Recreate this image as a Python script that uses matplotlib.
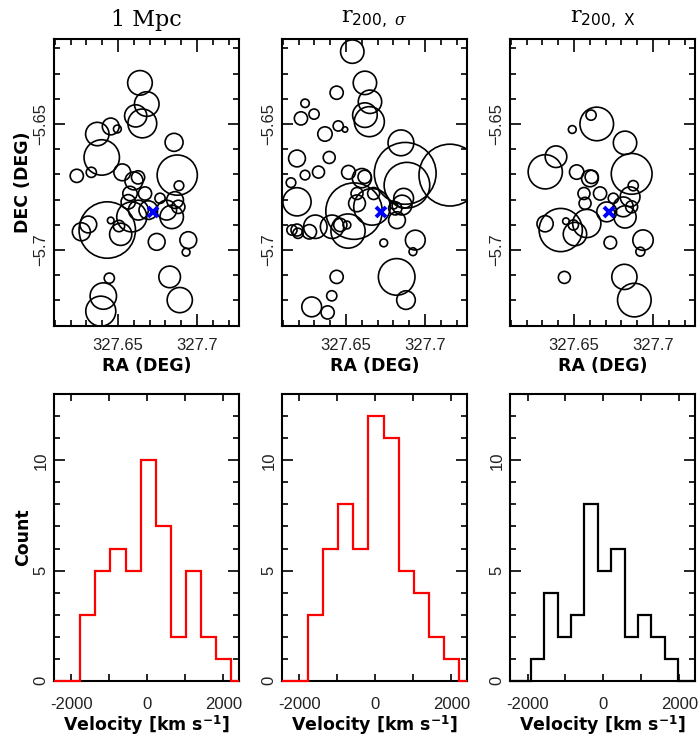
import matplotlib
matplotlib.use("Agg")
import matplotlib.pyplot as plt
from matplotlib.ticker import FixedLocator, MultipleLocator

plt.rcParams["mathtext.fontset"] = "custom"
plt.rcParams["mathtext.rm"] = "DejaVu Serif"
plt.rcParams["mathtext.sf"] = "DejaVu Sans"
plt.rcParams["mathtext.it"] = "DejaVu Serif:italic"
plt.rcParams["mathtext.bf"] = "DejaVu Sans:bold"

# --- galaxy positions (deg) and DS deviations per aperture ---
p1_ra = [327.6639, 327.6682, 327.6612, 327.6654, 327.6454, 327.6496, 327.6369, 327.6397, 327.6855, 327.6875,
         327.6239, 327.6331, 327.6527, 327.6601, 327.6627, 327.6886, 327.6432, 327.6312, 327.6268, 327.6454,
         327.6506, 327.6517, 327.6587, 327.6576, 327.6565, 327.6671, 327.6766, 327.6808, 327.6861, 327.6882,
         327.6840, 327.6745, 327.6945, 327.6931, 327.6445, 327.6407, 327.6391, 327.6827, 327.6891, 327.6692,
         327.6629]
p1_dec = [-5.6337, -5.6421, -5.6468, -5.6498, -5.6510, -5.6520, -5.6540, -5.6633, -5.6573, -5.6703,
          -5.6706, -5.6692, -5.6692, -5.6726, -5.6712, -5.6745, -5.6921, -5.6899, -5.6928, -5.6883,
          -5.6905, -5.6938, -5.6869, -5.6776, -5.6809, -5.6776, -5.6795, -5.6842, -5.6802, -5.6829,
          -5.6869, -5.6968, -5.6961, -5.7009, -5.7112, -5.7183, -5.7243, -5.7107, -5.7199, -5.6842,
          -5.6842]
p1_delta = [4.1, 4.1, 3.7, 4.8, 2.8, 1.3, 3.9, 5.9, 3.0, 6.7,
            2.2, 1.7, 2.8, 3.0, 2.2, 1.6, 9.4, 2.8, 3.0, 1.1,
            1.9, 3.7, 5.0, 2.4, 2.4, 2.2, 1.7, 3.3, 2.8, 2.2,
            3.9, 2.8, 2.8, 1.3, 1.7, 4.4, 5.0, 3.6, 4.2, 3.1,
            3.3]

p2_ra = [327.6540, 327.6620, 327.6652, 327.6620, 327.6648, 327.6441, 327.6241, 327.6298, 327.6215, 327.6451,
         327.6494, 327.6367, 327.6848, 327.6875, 327.6886, 327.7158, 327.6190, 327.6394, 327.6326, 327.6241,
         327.6152, 327.6190, 327.6516, 327.6601, 327.6618, 327.6675, 327.6570, 327.6570, 327.6551, 327.6665,
         327.6513, 327.6812, 327.6823, 327.6802, 327.6865, 327.6855, 327.6306, 327.6268, 327.6190, 327.6158,
         327.6196, 327.6412, 327.6464, 327.6506, 327.6739, 327.6939, 327.6924, 327.6821, 327.6880, 327.6441,
         327.6410, 327.6283, 327.6384]
p2_dec = [-5.6213, -5.6337, -5.6412, -5.6465, -5.6491, -5.6376, -5.6418, -5.6461, -5.6478, -5.6508,
          -5.6522, -5.6540, -5.6575, -5.6696, -5.6743, -5.6703, -5.6637, -5.6633, -5.6691, -5.6703,
          -5.6733, -5.6809, -5.6692, -5.6715, -5.6710, -5.6776, -5.6776, -5.6815, -5.6846, -5.6829,
          -5.6925, -5.6835, -5.6882, -5.6822, -5.6795, -5.6822, -5.6908, -5.6928, -5.6921, -5.6921,
          -5.6934, -5.6908, -5.6901, -5.6901, -5.6972, -5.6961, -5.7007, -5.7107, -5.7199, -5.7107,
          -5.7182, -5.7226, -5.7248]
p2_delta = [3.9, 3.9, 3.9, 4.1, 5.0, 2.2, 1.4, 1.7, 2.2, 1.7,
            0.9, 2.4, 4.3, 10.3, 7.6, 10.3, 2.8, 2.0, 2.0, 1.6,
            1.6, 4.7, 2.3, 3.2, 2.2, 2.0, 2.0, 2.8, 9.4, 6.1,
            5.7, 2.2, 2.8, 1.3, 3.3, 3.3, 3.9, 2.4, 2.0, 1.7,
            1.7, 3.9, 2.2, 1.3, 1.3, 3.3, 1.3, 6.1, 3.1, 2.2,
            1.7, 3.3, 2.2]

p3_ra = [327.6644, 327.6608, 327.6489, 327.6823, 327.6865, 327.6318, 327.6386, 327.6517, 327.6601, 327.6612,
         327.6875, 327.6563, 327.6665, 327.6570, 327.6749, 327.6855, 327.6812, 327.6865, 327.6823, 327.6707,
         327.6416, 327.6317, 327.6449, 327.6496, 327.6506, 327.6581, 327.6730, 327.6937, 327.6920, 327.6439,
         327.6819, 327.6882]
p3_dec = [-5.6500, -5.6465, -5.6522, -5.6575, -5.6698, -5.6690, -5.6630, -5.6691, -5.6716, -5.6710,
          -5.6745, -5.6776, -5.6776, -5.6815, -5.6795, -5.6789, -5.6829, -5.6829, -5.6869, -5.6849,
          -5.6921, -5.6896, -5.6886, -5.6901, -5.6937, -5.6895, -5.6971, -5.6961, -5.7007, -5.7109,
          -5.7107, -5.7199]
p3_delta = [5.6, 1.7, 1.3, 3.9, 6.8, 5.7, 3.6, 2.4, 2.8, 2.2,
            1.7, 2.0, 2.2, 2.0, 1.7, 3.3, 3.3, 2.0, 3.7, 3.3,
            7.2, 2.7, 1.1, 1.7, 3.9, 4.7, 2.1, 3.4, 1.5, 2.0,
            4.2, 5.6]

# cluster centre
centre_ra = 327.6722
centre_dec = -5.6851

# --- velocity histograms (km/s) ---
vel_edges_a = [-1765, -1370, -974, -578, -183, 213, 609, 1004, 1400, 1796, 2191]
h1_counts = [3, 5, 6, 5, 10, 7, 2, 5, 2, 1]
h2_counts = [3, 6, 8, 6, 12, 11, 5, 4, 2, 1]
vel_edges_b = [-1913, -1560, -1207, -854, -501, -148, 205, 558, 911, 1264, 1617, 1970]
h3_counts = [1, 4, 2, 3, 8, 5, 6, 2, 3, 2, 1]

titles = ["1 Mpc", r"$\mathrm{r}_{\mathsf{200,}\ \sigma}$", r"$\mathrm{r}_{\mathsf{200,\ X}}$"]

TICK_FONT = {"family": "Liberation Sans", "size": 12, "color": "#222222"}
LABEL_FONT = {"family": "DejaVu Sans", "weight": "bold", "size": 12.5}

RA_LIM = (327.6095, 327.7266)
DEC_LIM = (-5.7302, -5.6163)
VEL_LIM = (-2460, 2410)


def style_frame(ax, xlen_major, xlen_minor):
    for sp in ax.spines.values():
        sp.set_linewidth(1.5)
    ax.tick_params(which="both", direction="in", top=True, right=True, width=1.2)
    ax.tick_params(axis="y", which="major", length=8, pad=4)
    ax.tick_params(axis="y", which="minor", length=4.5)
    ax.tick_params(axis="x", which="major", length=xlen_major)
    ax.tick_params(axis="x", which="minor", length=xlen_minor)


def set_labels(ax, xticks, xlabels, yticks, ylabels):
    ax.xaxis.set_major_locator(FixedLocator(xticks))
    ax.set_xticklabels(xlabels, fontdict=TICK_FONT)
    ax.yaxis.set_major_locator(FixedLocator(yticks))
    ax.set_yticklabels(ylabels, fontdict=TICK_FONT, rotation=90, va="center")


def sky_panel(ax, ra, dec, delta, title, first):
    size = [(4.32 * d) ** 2 for d in delta]
    ax.scatter(ra, dec, s=size, facecolors="none", edgecolors="black", linewidths=1.2)
    ax.plot(centre_ra, centre_dec, marker="x", color="blue", ms=7, mew=2.8, zorder=5)
    ax.set_xlim(*RA_LIM)
    ax.set_ylim(*DEC_LIM)
    style_frame(ax, 9, 4.5)
    set_labels(ax, [327.65, 327.7], ["327.65", "327.7"], [-5.7, -5.65], ["\u22125.7", "\u22125.65"])
    ax.xaxis.set_minor_locator(MultipleLocator(0.01))
    ax.yaxis.set_minor_locator(MultipleLocator(0.01))
    ax.tick_params(axis="x", which="major", pad=8.5)
    ax.set_xlabel("RA (DEG)", labelpad=3, **LABEL_FONT)
    if first:
        ax.set_ylabel("DEC (DEG)", labelpad=1, **LABEL_FONT)
    ax.annotate(title, xy=(0.5, 1.0), xycoords="axes fraction", xytext=(0, 5.5),
                textcoords="offset points", ha="center", va="bottom",
                fontsize=16, family="DejaVu Serif")


def hist_panel(ax, edges, counts, color, first):
    # pad with empty bins so the zero level runs out to the frame
    ed = [VEL_LIM[0]] + list(edges) + [VEL_LIM[1]]
    ct = [0] + list(counts) + [0]
    ax.stairs(ct, ed, color=color, linewidth=1.6, zorder=3, clip_on=False)
    ax.set_xlim(*VEL_LIM)
    ax.set_ylim(0, 13)
    style_frame(ax, 5, 5)
    set_labels(ax, [-2000, 0, 2000], ["-2000", "0", "2000"], [0, 5, 10], ["0", "5", "10"])
    ax.xaxis.set_minor_locator(FixedLocator([-1000, 1000]))
    ax.yaxis.set_minor_locator(MultipleLocator(1))
    ax.tick_params(axis="x", which="major", pad=12)
    ax.set_xlabel(r"Velocity [km s$^{\mathbf{-1}}$]", labelpad=1, **LABEL_FONT)
    if first:
        ax.set_ylabel("Count", labelpad=1, **LABEL_FONT)


def main():
    fig = plt.figure(figsize=(6.98, 7.42), dpi=100)
    lefts = [0.0774, 0.404, 0.7307]
    width = 0.265
    sky = [(p1_ra, p1_dec, p1_delta), (p2_ra, p2_dec, p2_delta), (p3_ra, p3_dec, p3_delta)]
    hists = [(vel_edges_a, h1_counts, "red"), (vel_edges_a, h2_counts, "red"),
             (vel_edges_b, h3_counts, "black")]
    for i, left in enumerate(lefts):
        ax = fig.add_axes([left, 0.5606, width, 0.3868])
        sky_panel(ax, *sky[i], titles[i], i == 0)
        axh = fig.add_axes([left, 0.0826, width, 0.386])
        hist_panel(axh, *hists[i], i == 0)
    fig.savefig("out.png", dpi=100)


if __name__ == "__main__":
    main()
